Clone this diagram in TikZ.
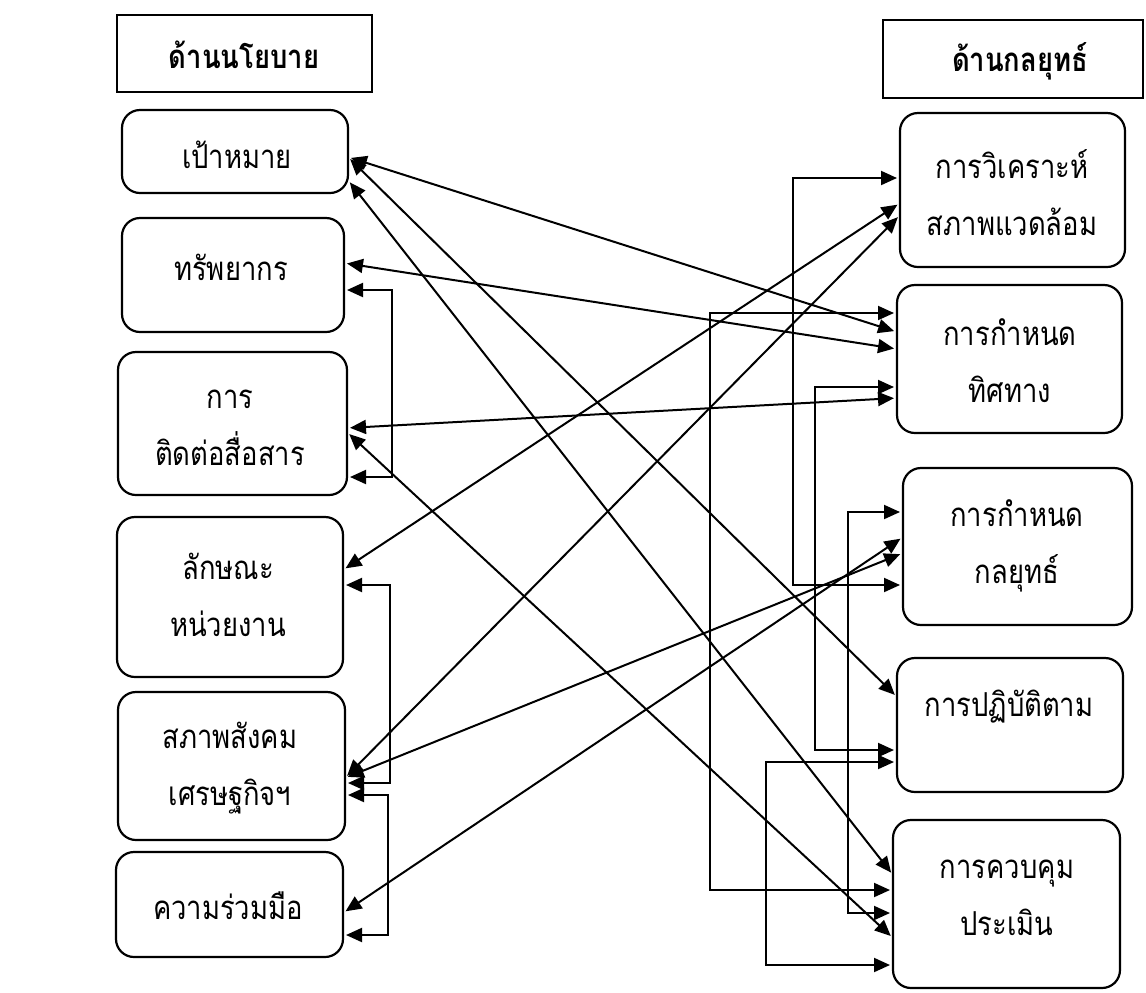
\documentclass[tikz,border=0pt]{standalone}
\usepackage{fontspec}
\newfontfamily\thai[Script=Thai, FakeStretch=0.83]{Loma}
\usetikzlibrary{arrows.meta,fit}
\begin{document}
\begin{tikzpicture}[x=0.5pt,y=-0.5pt,
  box/.style={draw, line width=1.1pt, rounded corners=9pt, inner sep=0pt, outer sep=0pt},
  hdr/.style={draw, line width=1.4pt, inner sep=0pt, outer sep=0pt},
  txt/.style={font=\thai\fontsize{16.5}{28.5}\selectfont, align=center, inner sep=0pt},
  htxt/.style={font=\thai\bfseries\fontsize{16.5}{17}\selectfont, inner sep=0pt},
  link/.style={line width=1pt, {Triangle[length=8pt,width=7pt]}-{Triangle[length=8pt,width=7pt]}, shorten <=1.5pt, shorten >=1.5pt}
]
\useasboundingbox (0,0) rectangle (1146,992);
% headers
\node[hdr, fit={(117,15) (372,92)}] (HL) {};
\node[htxt] (HLt) at (244,55) {ด้านนโยบาย};
\node[hdr, fit={(883,20) (1143,98)}] (HR) {};
\node[htxt] (HRt) at (1020,61) {ด้านกลยุทธ์};
% left boxes
\node[box, fit={(122,110) (348,193)}] (L1) {};
\node[box, fit={(122,218) (344,332)}] (L2) {};
\node[box, fit={(118,352) (347,495)}] (L3) {};
\node[box, fit={(117,517) (343,677)}] (L4) {};
\node[box, fit={(118,692) (345,840)}] (L5) {};
\node[box, fit={(116,852) (343,957)}] (L6) {};
\node[txt] (L1t) at (237,155) {เป้าหมาย};
\node[txt] (L2t) at (231,267) {ทรัพยากร};
\node[txt] (L3t) at (230,428) {การ\\ติดต่อสื่อสาร};
\node[txt] (L4t) at (228,595) {ลักษณะ\\หน่วยงาน};
\node[txt] (L5t) at (230,768) {สภาพสังคม\\เศรษฐกิจฯ};
\node[txt] (L6t) at (228,906) {ความร่วมมือ};
% right boxes
\node[box, fit={(900,113) (1125,267)}] (R1) {};
\node[box, fit={(897,285) (1122,433)}] (R2) {};
\node[box, fit={(903,468) (1132,625)}] (R3) {};
\node[box, fit={(897,658) (1123,792)}] (R4) {};
\node[box, fit={(893,820) (1120,988)}] (R5) {};
\node[txt] (R1t) at (1012,193) {การวิเคราะห์\\สภาพแวดล้อม};
\node[txt] (R2t) at (1010,361) {การกำหนด\\ทิศทาง};
\node[txt] (R3t) at (1017,546) {การกำหนด\\กลยุทธ์};
\node[txt] (R4t) at (1009,707) {การปฏิบัติตาม};
\node[txt] (R5t) at (1007,898) {การควบคุม\\ประเมิน};
% diagonal links
\draw[link] (L1.east |- 0,157) -- (R2.west |- 0,332);
\draw[link] (L1.east |- 0,157) -- (R4.west |- 0,697);
\draw[link] (L1.east |- 0,180) -- (R5.west |- 0,875);
\draw[link] (L2.east |- 0,263) -- (R2.west |- 0,349);
\draw[link] (L3.east |- 0,428) -- (R2.west |- 0,398);
\draw[link] (L3.east |- 0,432) -- (R5.west |- 0,938);
\draw[link] (L4.east |- 0,570) -- (R1.west |- 0,203);
\draw[link] (L5.east |- 0,778) -- (R1.west |- 0,215);
\draw[link] (L5.east |- 0,778) -- (R3.west |- 0,553);
\draw[link] (L6.east |- 0,913) -- (R3.west |- 0,537);
% elbow links right
\draw[link] (R1.west |- 0,178) -| (793,585) -- (R3.west |- 0,585);
\draw[link] (R2.west |- 0,313) -| (710,890) -- (R5.west |- 0,890);
\draw[link] (R2.west |- 0,387) -| (815,750) -- (R4.west |- 0,750);
\draw[link] (R3.west |- 0,512) -| (848,913) -- (R5.west |- 0,913);
\draw[link] (R4.west |- 0,762) -| (766,965) -- (R5.west |- 0,965);
% elbow links left
\draw[link] (L2.east |- 0,290) -| (392,477) -- (L3.east |- 0,477);
\draw[link] (L4.east |- 0,585) -| (390,783) -- (L5.east |- 0,783);
\draw[link] (L5.east |- 0,795) -| (388,935) -- (L6.east |- 0,935);
\end{tikzpicture}
\end{document}
